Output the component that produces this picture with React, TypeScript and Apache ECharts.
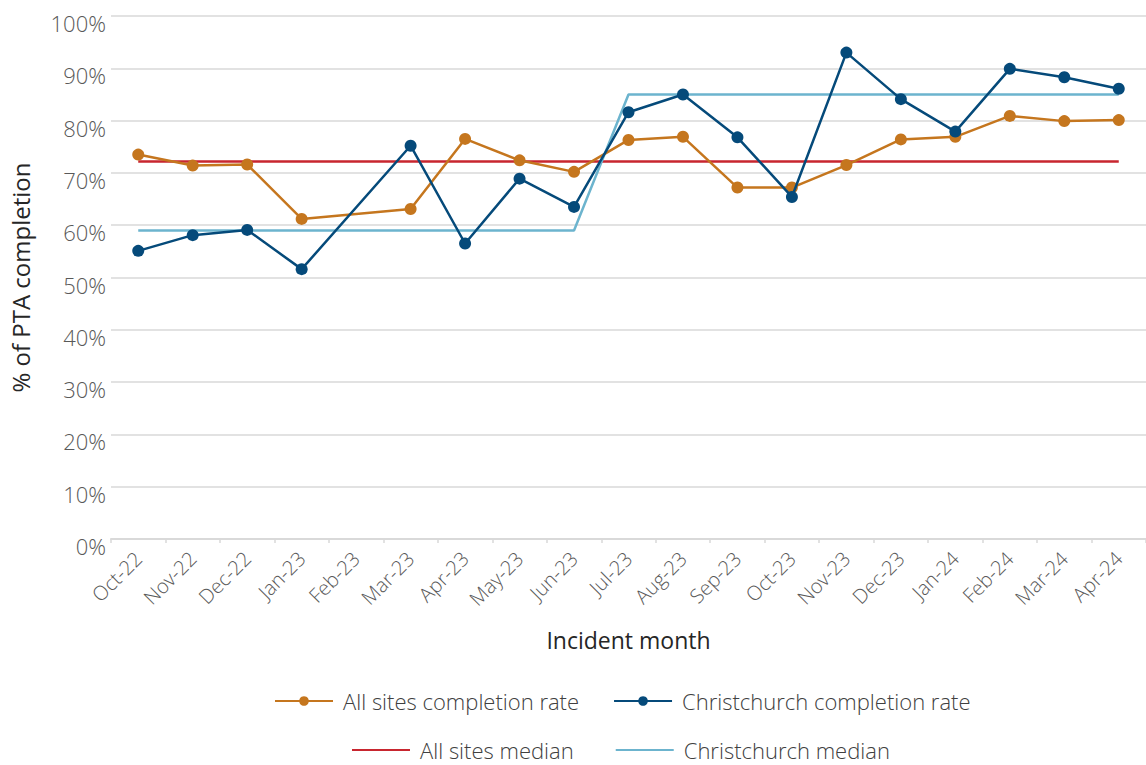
import React, { useEffect, useRef } from "react";
import * as echarts from "echarts";

const months = ["Oct-22","Nov-22","Dec-22","Jan-23","Feb-23","Mar-23","Apr-23","May-23","Jun-23","Jul-23","Aug-23","Sep-23","Oct-23","Nov-23","Dec-23","Jan-24","Feb-24","Mar-24","Apr-24"];
const allSitesRate = [73.5,71.4,71.6,61.2,null,63.1,76.5,72.4,70.2,76.3,76.9,67.2,67.2,71.5,76.4,76.9,80.9,79.9,80.1];
const chchRate = [55.1,58.1,59.1,51.6,null,75.2,56.5,68.9,63.5,81.6,85.0,76.8,65.4,93.0,84.1,77.9,89.9,88.3,86.1];
const allSitesMedian = [72.2,72.2,72.2,72.2,72.2,72.2,72.2,72.2,72.2,72.2,72.2,72.2,72.2,72.2,72.2,72.2,72.2,72.2,72.2];
const chchMedian = [59.0,59.0,59.0,59.0,59.0,59.0,59.0,59.0,59.0,85.0,85.0,85.0,85.0,85.0,85.0,85.0,85.0,85.0,85.0];
const yTicks = [0,10,20,30,40,50,60,70,80,90,100];

const FONT = "'Open Sans', 'Noto Sans', sans-serif";

export default function App() {
  const ref = useRef<HTMLDivElement>(null);
  useEffect(() => {
    if (!ref.current) return;
    const chart = echarts.init(ref.current, undefined, { renderer: "svg" });
    const legendText = { fontFamily: FONT, fontSize: 22, color: "#404040", fontWeight: 300, padding: [0, 0, 0, 5] };
    chart.setOption({
      animation: false,
      textStyle: { fontFamily: FONT },
      grid: { left: 111, right: 0, top: 16, bottom: 226, containLabel: false, outerBoundsMode: "none" },
      legend: [
        {
          data: ["All sites completion rate", "Christchurch completion rate"],
          top: 685, left: 269, itemWidth: 58, itemHeight: 12, itemGap: 34,
          textStyle: legendText,
        },
        {
          data: [
            { name: "All sites median", itemStyle: { opacity: 0 } },
            { name: "Christchurch median", itemStyle: { opacity: 0 } },
          ],
          top: 734, left: 346, itemWidth: 58, itemHeight: 12, itemGap: 41,
          textStyle: legendText,
        },
      ],
      xAxis: {
        type: "category",
        data: months,
        boundaryGap: true,
        name: "Incident month",
        nameLocation: "middle",
        nameGap: 89,
        nameTextStyle: { fontFamily: FONT, fontSize: 23, color: "#262626", fontWeight: 400 },
        axisLine: { lineStyle: { color: "#d9d9d9", width: 2 } },
        axisTick: { show: true, length: 4, alignWithLabel: false, lineStyle: { color: "#d9d9d9", width: 1.5 } },
        axisLabel: { rotate: 45, fontSize: 20, color: "#595959", fontFamily: FONT, fontWeight: 300, margin: 16, interval: 0 },
      },
      yAxis: {
        type: "value",
        min: 0,
        max: 100,
        interval: 10,
        name: "% of PTA completion",
        nameLocation: "middle",
        nameGap: 79,
        nameRotate: 90,
        nameTextStyle: { fontFamily: FONT, fontSize: 24, color: "#262626", fontWeight: 400 },
        axisLine: { show: false },
        axisTick: { show: false },
        splitLine: { lineStyle: { color: "#d9d9d9", width: 1.5 } },
        axisLabel: {
          fontSize: 22, color: "#595959", fontFamily: FONT, fontWeight: 300, margin: 5,
          verticalAlign: "top", lineHeight: 14,
          formatter: (v: number) => (yTicks.includes(v) ? v + "%" : ""),
        },
      },
      series: [
        {
          name: "All sites completion rate",
          type: "line",
          data: allSitesRate,
          connectNulls: true,
          symbol: "circle",
          symbolSize: 12,
          itemStyle: { color: "#C5761E" },
          lineStyle: { color: "#C5761E", width: 2.5 },
          z: 3,
        },
        {
          name: "Christchurch completion rate",
          type: "line",
          data: chchRate,
          connectNulls: true,
          symbol: "circle",
          symbolSize: 12,
          itemStyle: { color: "#054A7A" },
          lineStyle: { color: "#054A7A", width: 2.5 },
          z: 4,
        },
        {
          name: "All sites median",
          type: "line",
          data: allSitesMedian,
          symbol: "none",
          showSymbol: false,
          itemStyle: { color: "#C8262F" },
          lineStyle: { color: "#C8262F", width: 2.5 },
          z: 2,
        },
        {
          name: "Christchurch median",
          type: "line",
          data: chchMedian,
          symbol: "none",
          showSymbol: false,
          itemStyle: { color: "#6CB4CE" },
          lineStyle: { color: "#6CB4CE", width: 2.5 },
          z: 2,
        },
      ],
    });
    return () => chart.dispose();
  }, []);
  return <div ref={ref} style={{ position: "fixed", left: 0, top: 0, width: 1146, height: 765, background: "#fff" }} />;
}
